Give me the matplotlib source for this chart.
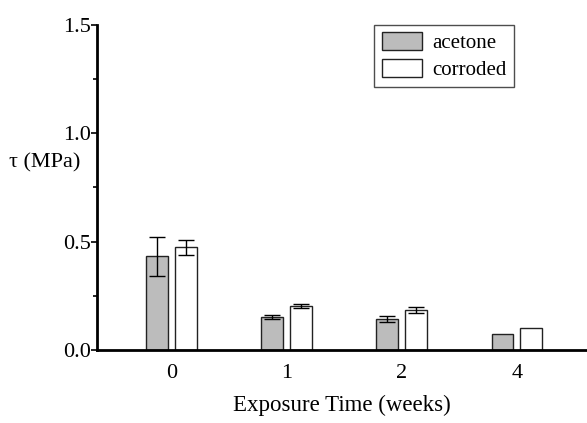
import matplotlib.pyplot as plt
import numpy as np
from matplotlib.ticker import MultipleLocator

weeks = ["0", "1", "2", "4"]
acetone = [0.433, 0.152, 0.143, 0.074]
acetone_err = [0.09, 0.01, 0.013, 0.0]
corroded = [0.474, 0.203, 0.184, 0.101]
corroded_err = [0.035, 0.01, 0.013, 0.0]

FONT = "Liberation Serif"
plt.rcParams["font.family"] = FONT

fig = plt.figure(figsize=(5.87, 4.23), dpi=100)
ax = fig.add_axes([0.165, 0.173, 0.835, 0.768])

x = np.arange(len(weeks))
width = 0.19
offset = 0.125

ax.bar(x - offset, acetone, width, color="#bcbcbc", edgecolor="#222222",
       linewidth=1.0, label="acetone")
ax.bar(x + offset, corroded, width, color="white", edgecolor="#222222",
       linewidth=1.0, label="corroded")

# error bars only where there is a spread
for xs, vals, errs in [(x - offset, acetone, acetone_err), (x + offset, corroded, corroded_err)]:
    for xi, v, e in zip(xs, vals, errs):
        if e > 0:
            ax.errorbar(xi, v, yerr=e, fmt="none", ecolor="black",
                        elinewidth=1.0, capsize=6, capthick=1.0)

ax.set_xlim(-0.65, 3.61)
ax.set_ylim(0, 1.5)
ax.set_xticks(x)
ax.set_xticklabels(weeks)
ax.yaxis.set_major_locator(MultipleLocator(0.5))
ax.yaxis.set_minor_locator(MultipleLocator(0.25))
ax.tick_params(axis="x", length=0, labelsize=16, pad=10)
ax.tick_params(axis="y", which="major", length=4, width=1.2, labelsize=16, pad=0)
ax.tick_params(axis="y", which="minor", length=3, width=1.2)

for s in ["top", "right"]:
    ax.spines[s].set_visible(False)
ax.spines["left"].set_linewidth(2)
ax.spines["bottom"].set_linewidth(2)

ax.set_xlabel("Exposure Time (weeks)", fontsize=16.5, labelpad=9)
fig.text(0.015, 0.615, "\u03c4 (MPa)", fontsize=16, va="center", ha="left")

leg = ax.legend(loc="upper right", bbox_to_anchor=(0.851, 1.0), fontsize=15,
                frameon=True, fancybox=False, edgecolor="#222222",
                handlelength=1.95, handleheight=0.9, borderpad=0.35,
                labelspacing=0.3, handletextpad=0.48, borderaxespad=0)
leg.get_frame().set_linewidth(1.0)

fig.savefig("out.png", dpi=100)
